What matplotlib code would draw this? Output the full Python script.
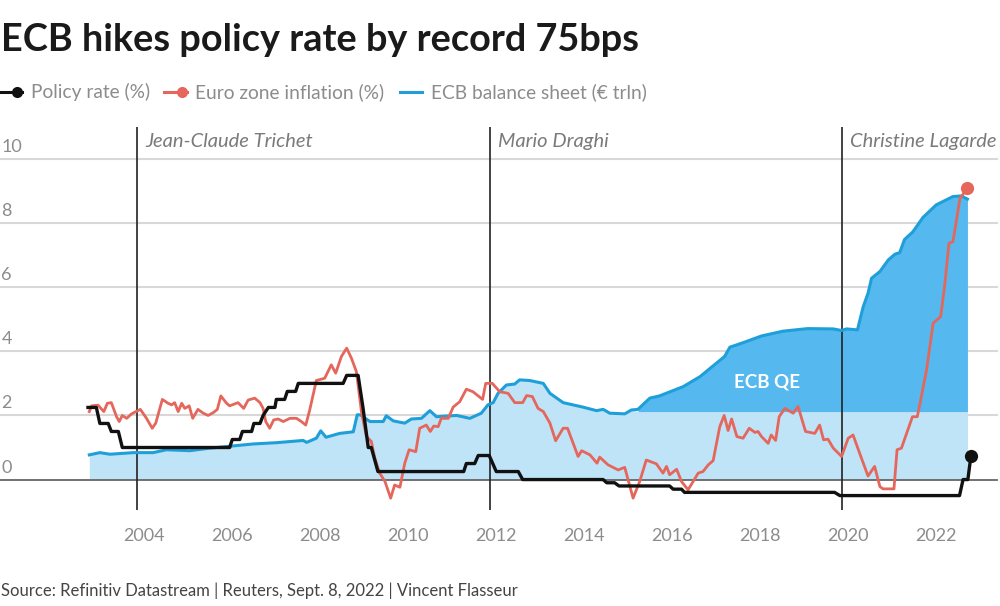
import numpy as np
import matplotlib
matplotlib.use("Agg")
import matplotlib.pyplot as plt
from matplotlib.lines import Line2D
from matplotlib.transforms import ScaledTranslation

plt.rcParams['font.family'] = ['Lato', 'DejaVu Sans']

# === 1. Data ===
policy_years = [2002.72, 2002.91, 2002.99, 2003.18, 2003.25, 2003.41, 2003.50, 2005.94, 2006.00, 2006.17,
                2006.23, 2006.44, 2006.49, 2006.63, 2006.70, 2006.82, 2006.97, 2007.00, 2007.19, 2007.25,
                2007.44, 2007.50, 2008.52, 2008.60, 2008.86, 2008.97, 2009.09, 2009.16, 2009.31, 2011.26,
                2011.32, 2011.51, 2011.59, 2011.84, 2012.00, 2012.50, 2012.60, 2014.43, 2014.51, 2014.69,
                2014.79, 2015.94, 2016.02, 2016.21, 2016.28, 2019.69, 2019.81, 2022.53, 2022.61, 2022.72,
                2022.79]
policy_rate = [2.25, 2.25, 1.75, 1.75, 1.5, 1.5, 1.0, 1.0, 1.25, 1.25,
               1.5, 1.5, 1.75, 1.75, 2.0, 2.25, 2.25, 2.5, 2.5, 2.75,
               2.75, 3.0, 3.0, 3.25, 3.25, 2.25, 1.0, 1.0, 0.25, 0.25,
               0.5, 0.5, 0.75, 0.75, 0.25, 0.25, 0.0, 0.0, -0.1, -0.1,
               -0.2, -0.2, -0.3, -0.3, -0.4, -0.4, -0.5, -0.5, 0.0, 0.0,
               0.75]

inflation_years = [2002.75, 2002.80, 2002.95, 2003.08, 2003.16, 2003.25, 2003.37, 2003.43, 2003.50, 2003.60,
                   2003.71, 2003.81, 2003.91, 2004.05, 2004.18, 2004.26, 2004.41, 2004.54, 2004.62, 2004.69,
                   2004.77, 2004.85, 2004.92, 2005.02, 2005.10, 2005.22, 2005.34, 2005.45, 2005.57, 2005.66,
                   2005.74, 2005.87, 2005.94, 2006.13, 2006.26, 2006.36, 2006.51, 2006.63, 2006.70, 2006.76,
                   2006.85, 2006.94, 2007.04, 2007.16, 2007.31, 2007.46, 2007.57, 2007.67, 2007.76, 2007.88,
                   2007.91, 2008.10, 2008.25, 2008.35, 2008.48, 2008.60, 2008.71, 2008.82, 2008.94, 2009.05,
                   2009.16, 2009.24, 2009.35, 2009.47, 2009.60, 2009.69, 2009.81, 2009.92, 2010.02, 2010.17,
                   2010.26, 2010.41, 2010.50, 2010.58, 2010.68, 2010.75, 2010.91, 2011.02, 2011.17, 2011.32,
                   2011.47, 2011.69, 2011.76, 2011.91, 2012.08, 2012.27, 2012.42, 2012.60, 2012.69, 2012.82,
                   2012.95, 2013.07, 2013.22, 2013.35, 2013.52, 2013.62, 2013.86, 2013.94, 2014.13, 2014.29,
                   2014.35, 2014.54, 2014.77, 2014.92, 2015.11, 2015.26, 2015.41, 2015.64, 2015.79, 2015.87,
                   2015.94, 2016.10, 2016.21, 2016.36, 2016.59, 2016.70, 2016.82, 2016.93, 2017.08, 2017.18,
                   2017.27, 2017.35, 2017.47, 2017.61, 2017.75, 2017.88, 2017.95, 2018.03, 2018.18, 2018.25,
                   2018.35, 2018.43, 2018.56, 2018.75, 2018.86, 2019.03, 2019.24, 2019.35, 2019.44, 2019.54,
                   2019.66, 2019.85, 2020.00, 2020.11, 2020.26, 2020.45, 2020.60, 2020.72, 2020.79, 2021.04,
                   2021.11, 2021.21, 2021.46, 2021.57, 2021.64, 2021.78, 2021.93, 2022.10, 2022.19, 2022.29,
                   2022.38, 2022.54, 2022.71]
inflation = [2.12, 2.30, 2.32, 2.12, 2.38, 2.40, 1.96, 1.81, 2.00, 1.91,
             2.05, 2.12, 2.19, 1.91, 1.60, 1.76, 2.50, 2.38, 2.33, 2.40,
             2.12, 2.38, 2.22, 2.30, 1.91, 2.19, 2.07, 2.00, 2.09, 2.19,
             2.61, 2.38, 2.30, 2.40, 2.22, 2.48, 2.54, 2.40, 2.22, 1.81,
             1.60, 1.86, 1.89, 1.81, 1.91, 1.91, 1.81, 1.70, 2.17, 2.90,
             3.09, 3.16, 3.58, 3.32, 3.84, 4.10, 3.78, 3.37, 2.07, 1.34,
             1.19, 0.67, 0.20, -0.06, -0.58, -0.17, -0.24, 0.51, 0.93, 0.87,
             1.60, 1.70, 1.50, 1.67, 1.65, 1.91, 1.91, 2.26, 2.43, 2.82,
             2.74, 2.50, 3.00, 3.00, 2.74, 2.69, 2.40, 2.40, 2.62, 2.59,
             2.22, 2.12, 1.76, 1.21, 1.60, 1.60, 0.72, 0.90, 0.77, 0.51,
             0.70, 0.46, 0.30, 0.38, -0.58, -0.06, 0.61, 0.49, 0.20, 0.41,
             0.15, 0.32, -0.06, -0.32, 0.20, 0.25, 0.46, 0.59, 1.65, 2.00,
             1.53, 1.89, 1.34, 1.29, 1.60, 1.47, 1.50, 1.34, 1.13, 1.39,
             1.22, 1.96, 2.22, 2.07, 2.28, 1.50, 1.44, 1.70, 1.24, 1.26,
             0.98, 0.72, 1.29, 1.39, 0.82, 0.11, 0.41, -0.22, -0.29, -0.29,
             0.93, 0.98, 1.96, 1.96, 2.43, 3.42, 4.88, 5.08, 6.02, 7.37,
             7.42, 8.77, 9.09]

balance_years = [2002.75, 2002.99, 2003.22, 2003.75, 2004.20, 2004.50, 2005.03, 2005.49, 2006.02, 2006.47,
                 2007.00, 2007.61, 2007.69, 2007.91, 2008.01, 2008.13, 2008.44, 2008.75, 2008.84, 2008.91,
                 2009.13, 2009.43, 2009.50, 2009.66, 2009.92, 2010.07, 2010.30, 2010.49, 2010.64, 2011.10,
                 2011.40, 2011.66, 2011.81, 2011.93, 2012.04, 2012.23, 2012.42, 2012.53, 2012.76, 2013.07,
                 2013.22, 2013.52, 2013.97, 2014.28, 2014.43, 2014.58, 2014.92, 2015.07, 2015.22, 2015.49,
                 2015.71, 2016.25, 2016.63, 2017.19, 2017.31, 2017.61, 2018.03, 2018.52, 2019.08, 2019.66,
                 2019.85, 2019.96, 2020.21, 2020.34, 2020.45, 2020.53, 2020.72, 2020.91, 2021.06, 2021.17,
                 2021.28, 2021.47, 2021.70, 2022.00, 2022.38, 2022.57, 2022.71]
balance_sheet = [0.77, 0.84, 0.79, 0.84, 0.84, 0.93, 0.90, 0.98, 1.05, 1.11,
                 1.15, 1.22, 1.16, 1.29, 1.52, 1.32, 1.44, 1.49, 2.02, 2.02,
                 1.81, 1.81, 1.99, 1.83, 1.76, 1.89, 1.91, 2.15, 1.96, 2.00,
                 1.91, 2.07, 2.33, 2.40, 2.69, 2.95, 2.98, 3.11, 3.09, 3.00,
                 2.69, 2.40, 2.26, 2.15, 2.19, 2.07, 2.05, 2.17, 2.19, 2.54,
                 2.61, 2.90, 3.21, 3.84, 4.13, 4.27, 4.48, 4.63, 4.71, 4.70,
                 4.65, 4.70, 4.67, 5.39, 5.81, 6.28, 6.49, 6.85, 7.03, 7.08,
                 7.49, 7.73, 8.18, 8.57, 8.83, 8.85, 8.75]

president_starts = [2003.83, 2011.85, 2019.85]
president_names = ['Jean-Claude Trichet', 'Mario Draghi', 'Christine Lagarde']
y_ticks = [0, 2, 4, 6, 8, 10]
x_ticks = [2004, 2006, 2008, 2010, 2012, 2014, 2016, 2018, 2020, 2022]

qe_start = 2015.2
qe_base = 2.12

# === 2. Colours ===
BLACK = '#111111'
RED = '#E5675C'
BLUE = '#1F9FD9'
LIGHT_BLUE = '#BFE3F7'
DARK_BLUE = '#55B8EE'
GRID = '#D8D8D8'
GREY = '#8C8C8C'

# === 3. Figure and axes ===
fig = plt.figure(figsize=(10, 6.06), dpi=100)
ax = fig.add_axes([0, 96 / 606, 1, 383 / 606])
ax.set_xlim(2000.72, 2023.45)
ax.set_ylim(-0.95, 11.0)
for side in ax.spines.values():
    side.set_visible(False)

# === 4. Marks ===
balance_years = np.array(balance_years)
balance_sheet = np.array(balance_sheet)
light_top = np.where(balance_years < qe_start, balance_sheet, np.minimum(balance_sheet, qe_base))

for v in y_ticks[1:]:
    ax.axhline(v, xmax=0.997, color=GRID, lw=1.5, zorder=1)

ax.fill_between(balance_years, 0, light_top, color=LIGHT_BLUE, lw=0, zorder=2)
ax.fill_between(balance_years, qe_base, balance_sheet, where=balance_years >= qe_start,
                color=DARK_BLUE, lw=0, zorder=2)
ax.axhline(0, xmax=0.997, color='#666666', lw=1.3, zorder=3)
ax.vlines(president_starts, -0.95, 11.0, color='#222222', lw=1.2, zorder=3)

ax.plot(balance_years, balance_sheet, color=BLUE, lw=2.2, zorder=4)
ax.plot(inflation_years, inflation, color=RED, lw=2.0, zorder=5)
ax.plot(policy_years, policy_rate, color=BLACK, lw=2.4, zorder=6)
ax.plot(inflation_years[-1], inflation[-1], 'o', color=RED, ms=9.5, mew=0, zorder=7)
ax.plot(policy_years[-1], policy_rate[-1], 'o', color=BLACK, ms=9.5, mew=0, zorder=7)

# === 5. Ticks ===
ax.set_yticks(y_ticks)
ax.set_xticks(x_ticks)
ax.tick_params(axis='y', length=0, pad=-1, labelsize=13, labelcolor=GREY)
ax.tick_params(axis='x', length=0, pad=13, labelsize=13, labelcolor=GREY)
nudge = ScaledTranslation(0, 4 / 100, fig.dpi_scale_trans)
for label in ax.get_yticklabels():
    label.set_horizontalalignment('left')
    label.set_verticalalignment('bottom')
    label.set_transform(label.get_transform() + nudge)

# === 6. Labels ===
for year, name in zip(president_starts, president_names):
    ax.annotate(name, (year, 10.56), xytext=(6, 0), textcoords='offset points', fontsize=14.5,
                style='italic', color='#7A7A7A', va='center')
ax.text(2018.15, 3.05, 'ECB QE', color='white', fontsize=13.5, fontweight='bold', ha='center', va='center',
        zorder=6)

fig.text(0.001, 1 - 40 / 606, 'ECB hikes policy rate by record 75bps', fontsize=27.3, fontweight='bold',
         color='#1A1A1A', va='center')
fig.text(0.001, 1 - 591 / 606, 'Source: Refinitiv Datastream | Reuters, Sept. 8, 2022 | Vincent Flasseur',
         fontsize=12, color='#444444', va='center')

# === 7. Legend, drawn by hand ===
legend_y = 1 - 92 / 606
legend_items = [(0, 22, BLACK, True, 31, 'Policy rate (%)'),
                (164, 187, RED, True, 195, 'Euro zone inflation (%)'),
                (400, 422, BLUE, False, 431, 'ECB balance sheet (€ trln)')]
for x0, x1, colour, has_dot, text_x, text in legend_items:
    fig.add_artist(Line2D([x0 / 1000, x1 / 1000], [legend_y, legend_y], color=colour, lw=2.2))
    if has_dot:
        fig.add_artist(Line2D([(x1 - 5) / 1000], [legend_y], marker='o', ms=8, mew=0, color=colour))
    fig.text(text_x / 1000, legend_y, text, fontsize=13.8, color=GREY, va='center')

fig.savefig('out.png', dpi=100)
